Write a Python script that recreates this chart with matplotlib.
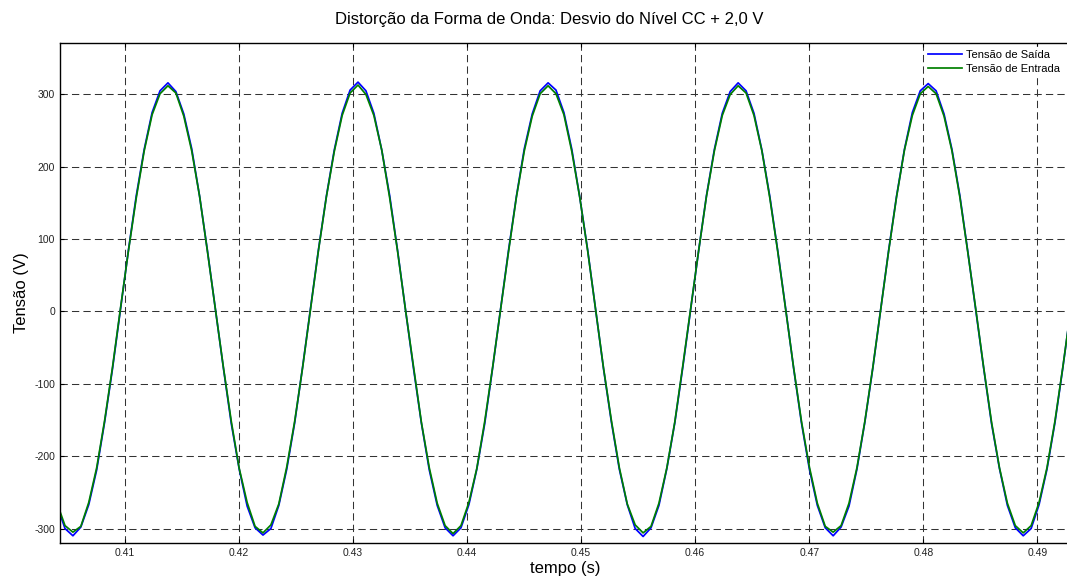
import matplotlib
matplotlib.use("Agg")
import matplotlib.pyplot as plt
import numpy as np

plt.rcParams['font.family'] = ['Liberation Sans', 'DejaVu Sans']

# sample grid of the simulation (24 samples per 60 Hz cycle)
t_start = 0.404044
dt = 1.0 / 1440

# Tensão de Entrada (V)
v_entrada = [
    -265, -296, -305, -297, -264, -216, -151, -77, 4, 83, 157, 222,
    272, 301, 312, 302, 270, 222, 159, 82, 3, -77, -152, -217,
    -264, -297, -306, -295, -266, -215, -152, -78, 3, 84, 158, 221,
    271, 302, 313, 300, 271, 223, 157, 83, 2, -76, -153, -216,
    -265, -296, -307, -296, -264, -217, -152, -77, 3, 82, 158, 222,
    270, 301, 312, 301, 272, 221, 158, 84, 3, -78, -151, -216,
    -266, -295, -306, -297, -265, -216, -153, -76, 4, 83, 159, 222,
    271, 300, 312, 302, 271, 222, 157, 83, 3, -77, -152, -215,
    -265, -297, -305, -296, -265, -216, -152, -78, 2, 83, 158, 223,
    271, 301, 311, 301, 270, 222, 158, 82, 4, -77, -153, -216,
    -265, -296, -306, -296, -264, -216, -152, -77, 3,
]

# Tensão de Saída (V)
v_saida = [
    -268, -300, -310, -298, -267, -219, -153, -79, 3, 84, 160, 224,
    275, 305, 316, 304, 273, 225, 159, 83, 3, -78, -155, -218,
    -269, -299, -309, -300, -268, -218, -154, -77, 4, 85, 159, 223,
    274, 306, 317, 305, 274, 223, 160, 84, 2, -78, -154, -219,
    -268, -299, -310, -299, -267, -218, -155, -78, 3, 84, 159, 225,
    273, 305, 316, 306, 275, 224, 158, 85, 3, -79, -153, -218,
    -267, -300, -311, -299, -268, -217, -154, -78, 3, 83, 160, 224,
    274, 304, 316, 305, 274, 223, 159, 84, 4, -78, -154, -218,
    -268, -299, -310, -298, -269, -218, -153, -79, 2, 84, 159, 224,
    275, 305, 315, 305, 273, 224, 160, 83, 3, -78, -155, -217,
    -268, -299, -310, -300, -267, -218, -154, -78, 3,
]

x_ticks = [0.41, 0.42, 0.43, 0.44, 0.45, 0.46, 0.47, 0.48, 0.49]
y_ticks = [-300, -200, -100, 0, 100, 200, 300]

t = t_start + np.arange(len(v_saida)) * dt

W, H = 1067, 578
fig = plt.figure(figsize=(W / 100, H / 100), dpi=100)
# axes runs slightly past the right border, as in the original export
ax = fig.add_axes([60 / W, 1 - 543 / H, (1071.5 - 60) / W, (543 - 42.7) / H])

ax.plot(t, v_saida, color='#0000ff', lw=1.25, label='Tensão de Saída')
ax.plot(t, v_entrada, color='#008000', lw=1.25, label='Tensão de Entrada')

ax.set_xlim(0.4043, 0.493)
ax.set_ylim(-320, 371.5)
ax.set_xticks(x_ticks)
ax.set_yticks(y_ticks)
ax.set_xticklabels([f"{v:.2f}" for v in x_ticks])
ax.set_yticklabels([str(v) for v in y_ticks])
ax.tick_params(direction='in', length=3, labelsize=7.5, pad=3.6,
               top=True, right=True, colors='k', labelcolor='#222222')
for s in ax.spines.values():
    s.set_linewidth(1.0)
    s.set_color('k')

ax.grid(True, color='#333333', linestyle=(0, (7, 4)), linewidth=0.75)

ax.set_xlabel('tempo (s)', fontsize=12, labelpad=2.5)
ax.set_ylabel('Tensão (V)', fontsize=12, labelpad=4)

fig.text(549.5 / W, 1 - 24 / H,
         'Distorção da Forma de Onda: Desvio do Nível CC + 2,0 V',
         ha='center', va='baseline', fontsize=12)

# white legend box without border, hides the grid behind it
leg = ax.legend(loc='upper left', bbox_to_anchor=(924.7 / W, 1 - 46.7 / H),
                bbox_transform=fig.transFigure, frameon=True, fancybox=False,
                fontsize=8, borderpad=0.3, borderaxespad=0, handlelength=3.06,
                handletextpad=0.36, labelspacing=0.35)
leg.get_frame().set_facecolor('white')
leg.get_frame().set_edgecolor('white')
leg.get_frame().set_alpha(1.0)

fig.savefig('out.png', dpi=100)
